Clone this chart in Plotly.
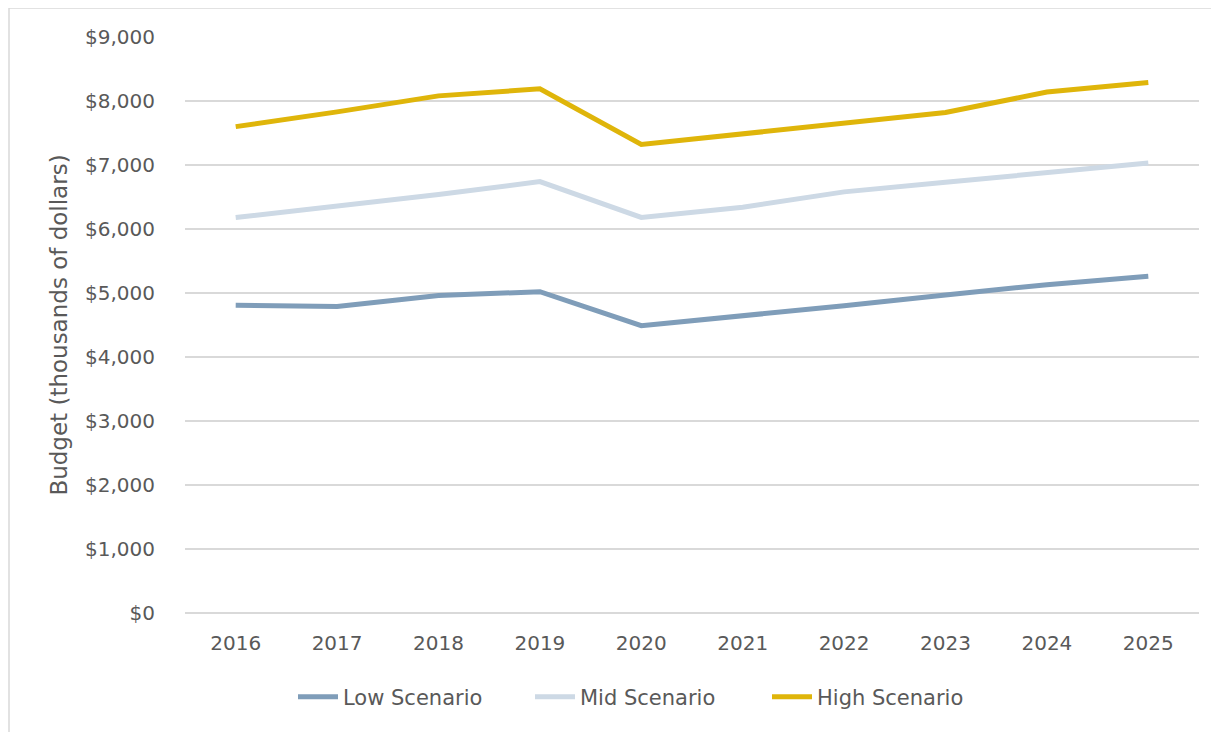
import plotly.graph_objects as go

years = ["2016", "2017", "2018", "2019", "2020", "2021", "2022", "2023", "2024", "2025"]
low = [4810, 4790, 4960, 5020, 4490, 4640, 4800, 4970, 5130, 5260]
mid = [6180, 6360, 6540, 6740, 6180, 6340, 6580, 6730, 6880, 7030]
high = [7600, 7830, 8080, 8190, 7320, 7490, 7650, 7820, 8140, 8290]
series_names = ["Low Scenario", "Mid Scenario", "High Scenario"]
colors = ["#7F9DB9", "#CDD9E5", "#DFB50A"]
y_ticks = [0, 1000, 2000, 3000, 4000, 5000, 6000, 7000, 8000, 9000]
y_tick_text = ["$0", "$1,000", "$2,000", "$3,000", "$4,000", "$5,000", "$6,000", "$7,000", "$8,000", "$9,000"]

OFF = 8  # page body margin
W, H = 1219 - OFF, 732 - OFF
L, R, T, B = 185 - OFF, 1199 - OFF, 37 - OFF, 613 - OFF

def px_x(p):
    return (p - OFF - L) / (R - L)

def px_y(p):
    return (B - (p - OFF)) / (B - T)

FONT = "DejaVu Sans"
GREY = "#595959"

fig = go.Figure()
for name, vals, col in zip(series_names, [low, mid, high], colors):
    fig.add_trace(go.Scatter(
        x=years, y=vals, name=name, mode="lines",
        line=dict(color=col, width=5),
    ))

fig.update_layout(
    width=W, height=H,
    margin=dict(l=L, r=W - R, t=T, b=H - B),
    paper_bgcolor="white", plot_bgcolor="white",
    font=dict(family=FONT, size=20, color=GREY),
    showlegend=True,
    legend=dict(
        orientation="h", x=px_x(293), xanchor="left",
        y=px_y(697), yanchor="middle",
        font=dict(family=FONT, size=21, color=GREY),
        itemwidth=40, tracegroupgap=0,
        entrywidth=182, entrywidthmode="pixels",
        bgcolor="rgba(0,0,0,0)",
    ),
    xaxis=dict(
        type="category", range=[-0.5, 9.5],
        showgrid=False, showline=False, zeroline=False,
        ticks="", ticklabelstandoff=16,
        tickfont=dict(family=FONT, size=20, color=GREY),
    ),
    yaxis=dict(
        range=[0, 9000], tickvals=y_ticks, ticktext=y_tick_text,
        showgrid=True, gridcolor="#D9D9D9", gridwidth=1.5,
        zeroline=True, zerolinecolor="#D9D9D9", zerolinewidth=1.5,
        showline=False, ticks="", ticklabelstandoff=29,
        tickfont=dict(family=FONT, size=20, color=GREY),
        title=dict(text="Budget (thousands of dollars)", standoff=10,
                   font=dict(family=FONT, size=23, color=GREY)),
    ),
    shapes=[dict(
        type="rect", xref="paper", yref="paper",
        x0=px_x(9), x1=px_x(1217), y0=px_y(8), y1=px_y(745),
        line=dict(color="#D9D9D9", width=1.5), fillcolor="rgba(0,0,0,0)",
        layer="below",
    )],
)

fig.write_html("out.html")
